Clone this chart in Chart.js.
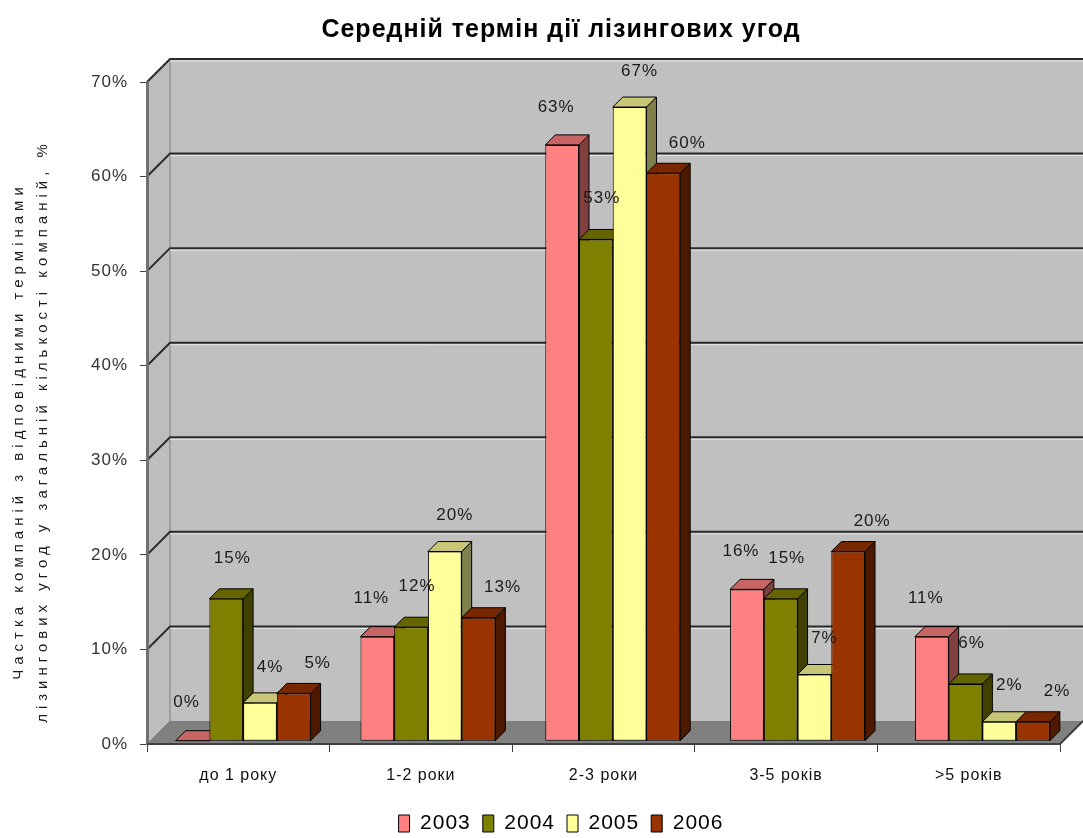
<!DOCTYPE html>
<html><head><meta charset="utf-8">
<script src="https://cdn.jsdelivr.net/npm/chart.js@4.4.0/dist/chart.umd.min.js"></script>
<style>html,body{margin:0;padding:0;background:#fff;}#wrap{width:1083px;height:838px;}</style>
</head><body><div id="wrap"><canvas id="c" width="1083" height="838"></canvas></div>
<script>
const categories = ['до 1 року', '1-2 роки', '2-3 роки', '3-5 років', '>5 років'];
const seriesLabels = ['2003', '2004', '2005', '2006'];
const values2003 = [0, 11, 63, 16, 11];
const values2004 = [15, 12, 53, 15, 6];
const values2005 = [4, 20, 67, 7, 2];
const values2006 = [5, 13, 60, 20, 2];
const yTickValues = [0, 10, 20, 30, 40, 50, 60, 70];
const chartTitle = 'Середній термін дії лізингових угод';
const yTitle = ['Частка компаній з відповідними термінами', 'лізингових угод у загальній кількості компаній, %'];

const colors = ['#FF8080', '#808000', '#FFFF99', '#993300'];
const DEPTH = 23, BAR_D = 10;
const FONT = '"Liberation Sans", Arial, sans-serif';

function shade(hex, f) {
  const n = parseInt(hex.slice(1), 16);
  const r = Math.round(((n >> 16) & 255) * f), g = Math.round(((n >> 8) & 255) * f), b = Math.round((n & 255) * f);
  return `rgb(${r},${g},${b})`;
}

const spacing = {
  id: 'spacing',
  beforeLayout(chart) { chart.ctx.letterSpacing = '1px'; },
  beforeDraw(chart) { chart.ctx.letterSpacing = '1px'; }
};

const threeD = {
  id: 'threeD',
  beforeDraw(chart) {
    const {ctx, chartArea: a, scales: {y}} = chart;
    ctx.save();
    ctx.fillStyle = '#C0C0C0';
    ctx.fillRect(a.left + DEPTH, a.top - DEPTH, a.right - a.left, a.bottom - a.top);
    ctx.beginPath();
    ctx.moveTo(a.left, a.top); ctx.lineTo(a.left + DEPTH, a.top - DEPTH);
    ctx.lineTo(a.left + DEPTH, a.bottom - DEPTH); ctx.lineTo(a.left, a.bottom); ctx.closePath();
    ctx.fillStyle = '#BDBDBD'; ctx.fill();
    ctx.strokeStyle = '#808080'; ctx.lineWidth = 1; ctx.stroke();
    ctx.beginPath();
    ctx.moveTo(a.left, a.bottom); ctx.lineTo(a.right, a.bottom);
    ctx.lineTo(a.right + DEPTH, a.bottom - DEPTH); ctx.lineTo(a.left + DEPTH, a.bottom - DEPTH); ctx.closePath();
    ctx.fillStyle = '#808080'; ctx.fill();
    yTickValues.forEach(v => {
      if (v === 0) return;
      const py = y.getPixelForValue(v);
      ctx.strokeStyle = '#2a2a2a'; ctx.lineWidth = 2;
      ctx.beginPath();
      ctx.moveTo(a.left, py); ctx.lineTo(a.left + DEPTH, py - DEPTH); ctx.lineTo(a.right + DEPTH, py - DEPTH);
      ctx.stroke();
      ctx.strokeStyle = '#e6e6e6'; ctx.lineWidth = 1;
      ctx.beginPath();
      ctx.moveTo(a.left + DEPTH, py - DEPTH + 2); ctx.lineTo(a.right + DEPTH, py - DEPTH + 2);
      ctx.stroke();
    });
    ctx.restore();
  },
  beforeDatasetsDraw(chart) {
    const {ctx} = chart;
    ctx.save();
    ctx.lineWidth = 1; ctx.strokeStyle = '#000';
    chart.data.datasets.forEach((ds, di) => {
      chart.getDatasetMeta(di).data.forEach(bar => {
        const l = bar.x - bar.width / 2, r = bar.x + bar.width / 2, t = bar.y, b = bar.base;
        ctx.beginPath();
        ctx.moveTo(r, t); ctx.lineTo(r + BAR_D, t - BAR_D); ctx.lineTo(r + BAR_D, b - BAR_D); ctx.lineTo(r, b); ctx.closePath();
        ctx.fillStyle = shade(colors[di], 0.5); ctx.fill(); ctx.stroke();
        ctx.beginPath();
        ctx.moveTo(l, t); ctx.lineTo(r, t); ctx.lineTo(r + BAR_D, t - BAR_D); ctx.lineTo(l + BAR_D, t - BAR_D); ctx.closePath();
        ctx.fillStyle = shade(colors[di], 0.78); ctx.fill(); ctx.stroke();
      });
    });
    ctx.restore();
  },
  afterDatasetsDraw(chart) {
    const {ctx} = chart;
    const dx = [-6, 6, 10, 24], dy = [-38, -41, -36, -30];
    ctx.save();
    ctx.font = '17px ' + FONT; ctx.fillStyle = '#1a1a1a';
    ctx.textAlign = 'center'; ctx.textBaseline = 'middle';
    chart.data.datasets.forEach((ds, di) => {
      chart.getDatasetMeta(di).data.forEach((bar, i) => {
        ctx.fillText(ds.data[i].y + '%', bar.x + dx[di], bar.y + dy[di]);
      });
    });
    ctx.restore();
  },
  afterDraw(chart) {
    const {ctx, chartArea: a} = chart;
    ctx.save();
    ctx.strokeStyle = '#404040'; ctx.lineWidth = 2;
    ctx.beginPath();
    ctx.moveTo(a.left, a.bottom); ctx.lineTo(a.right, a.bottom); ctx.lineTo(a.right + DEPTH, a.bottom - DEPTH);
    ctx.stroke();
    ctx.font = '15px ' + FONT; ctx.fillStyle = '#1a1a1a';
    ctx.letterSpacing = '5px';
    ctx.textAlign = 'center'; ctx.textBaseline = 'middle';
    const cy = (a.top + a.bottom) / 2 + 18;
    [19, 43].forEach((xx, k) => {
      ctx.save();
      ctx.translate(xx, cy);
      ctx.rotate(-Math.PI / 2);
      ctx.fillText(yTitle[k], 0, 0);
      ctx.restore();
    });
    ctx.restore();
  }
};

const toPoints = arr => arr.map((v, i) => ({x: i, y: v}));

new Chart(document.getElementById('c'), {
  type: 'bar',
  data: {
    labels: categories,
    datasets: [
      {label: seriesLabels[0], data: toPoints(values2003)},
      {label: seriesLabels[1], data: toPoints(values2004)},
      {label: seriesLabels[2], data: toPoints(values2005)},
      {label: seriesLabels[3], data: toPoints(values2006)}
    ].map((d, i) => Object.assign(d, {xAxisID: 'xb', yAxisID: 'yb', backgroundColor: colors[i], borderColor: '#000', borderWidth: 1, borderSkipped: false, barPercentage: 1, categoryPercentage: 0.73}))
  },
  options: {
    responsive: false, animation: false,
    layout: {padding: {left: 62, right: DEPTH, top: 0, bottom: -6}},
    plugins: {
      title: {display: true, text: chartTitle, color: '#000', font: {family: FONT, size: 25, weight: 'bold'}, padding: {top: 15, bottom: 37}},
      legend: {position: 'bottom', labels: {color: '#000', font: {family: FONT, size: 21}, boxWidth: 11, boxHeight: 17, padding: 12, generateLabels(chart) {
        return chart.data.datasets.map((d, i) => ({text: d.label, fillStyle: colors[i], strokeStyle: '#000', lineWidth: 1, datasetIndex: i}));
      }}},
      tooltip: {enabled: false}
    },
    scales: {
      x: {
        type: 'category',
        grid: {display: true, drawOnChartArea: false, drawTicks: true, tickLength: 8, color: '#404040', offset: true},
        border: {display: false},
        ticks: {color: '#111', font: {family: FONT, size: 16}, padding: 14},
        afterFit(s) { s.height = 57; }
      },
      xb: {type: 'linear', display: false, offset: false, min: -0.52, max: 4.42,
        afterBuildTicks(s) { s.ticks = [0, 1, 2, 3, 4].map(v => ({value: v})); }},
      y: {
        min: 0, max: 70,
        afterBuildTicks(s) { s.ticks = yTickValues.map(v => ({value: v})); },
        ticks: {color: '#333', font: {family: FONT, size: 17}, padding: 12, callback: v => v + '%'},
        grid: {display: true, drawOnChartArea: false, tickLength: 7, color: '#404040'},
        border: {display: true, color: '#707070', width: 3},
        afterFit(s) { s.width = 85; }
      },
      yb: {type: 'linear', display: false, min: -0.35, max: 69.65}
    }
  },
  plugins: [spacing, threeD]
});
</script></body></html>
